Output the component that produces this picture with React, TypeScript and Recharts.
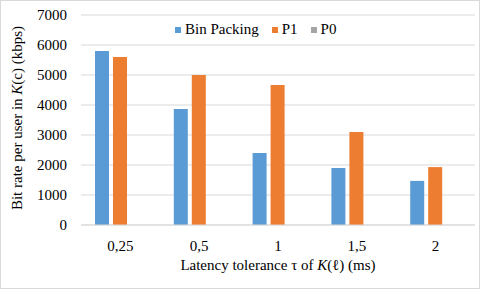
import React from 'react';
import { BarChart, Bar, XAxis, YAxis, CartesianGrid, Legend } from 'recharts';

const categories = ['0,25', '0,5', '1', '1,5', '2'];
const binPacking = [5800, 3870, 2400, 1900, 1470];
const p1 = [5600, 5000, 4670, 3100, 1930];
const p0 = [0, 0, 0, 0, 0];
const yTicks = [0, 1000, 2000, 3000, 4000, 5000, 6000, 7000];

const seriesInfo = [
  { key: 'binPacking', name: 'Bin Packing', color: '#5B9BD5' },
  { key: 'p1', name: 'P1', color: '#ED7D31' },
  { key: 'p0', name: 'P0', color: '#A5A5A5' },
];

const data = categories.map((c, i) => ({
  cat: c,
  binPacking: binPacking[i],
  p1: p1[i],
  p0: p0[i],
}));

const FONT = 'Liberation Serif, serif';
const TXT = { fontFamily: FONT, fontSize: 15 };

const LegendContent = () => (
  <div style={{ display: 'flex', alignItems: 'center', ...TXT, lineHeight: '17px', color: '#000', whiteSpace: 'nowrap' }}>
    {seriesInfo.map((s, i) => (
      <div key={s.key} style={{ display: 'flex', alignItems: 'center', marginRight: i < seriesInfo.length - 1 ? 13 : 0 }}>
        <span style={{ display: 'inline-block', width: 6, height: 6, background: s.color, marginRight: 4 }} />
        <span style={TXT}>{s.name}</span>
      </div>
    ))}
  </div>
);

const XTick = (props: any) => {
  const { x, y, payload } = props;
  return (
    <text x={x} y={y} dy={11} textAnchor="middle" style={TXT} fill="#000">
      {payload.value}
    </text>
  );
};

const YTick = (props: any) => {
  const { x, y, payload } = props;
  return (
    <text x={x} y={y} dy={5} textAnchor="end" style={TXT} fill="#000">
      {payload.value}
    </text>
  );
};

const XLabel = (props: any) => {
  const vb = props.viewBox || {};
  const cx = vb.x + vb.width / 2;
  return (
    <text x={cx} y={270} textAnchor="middle" style={TXT} fill="#000">
      Latency tolerance τ of <tspan fontStyle="italic">K</tspan>(ℓ) (ms)
    </text>
  );
};

const YLabel = () => (
  <text
    x={17}
    y={118}
    transform="rotate(-90, 17, 118)"
    textAnchor="middle"
    dominantBaseline="central"
    style={TXT}
    fill="#000"
  >
    Bit rate per user in <tspan fontStyle="italic">K</tspan>(c) (kbps)
  </text>
);

export default function App() {
  return (
    <div style={{ position: 'fixed', left: 0, top: 0, width: 480, height: 289, background: '#fff', fontFamily: FONT }}>
      <BarChart
        width={480}
        height={289}
        data={data}
        margin={{ top: 15, right: 5, left: 0, bottom: 34 }}
        barGap={4}
        barSize={14}
      >
        <CartesianGrid vertical={false} stroke="#D9D9D9" />
        <XAxis
          dataKey="cat"
          axisLine={{ stroke: '#D9D9D9' }}
          tickLine={false}
          tickMargin={9}
          height={30}
          tick={<XTick />}
          label={<XLabel />}
        />
        <YAxis
          width={81}
          domain={[0, 7000]}
          ticks={yTicks}
          axisLine={false}
          tickLine={false}
          tickMargin={8}
          tick={<YTick />}
          label={<YLabel />}
        />
        <Legend
          verticalAlign="middle"
          layout="horizontal"
          align="center"
          content={<LegendContent />}
          wrapperStyle={{ top: 21, left: 175, width: 'auto' }}
        />
        {seriesInfo.map((s) => (
          <Bar key={s.key} dataKey={s.key} name={s.name} fill={s.color} isAnimationActive={false} />
        ))}
      </BarChart>
      <div style={{ position: 'absolute', left: 0, top: 0, width: 480, height: 289, boxSizing: 'border-box', border: '1px solid #D9D9D9', pointerEvents: 'none' }} />
    </div>
  );
}
